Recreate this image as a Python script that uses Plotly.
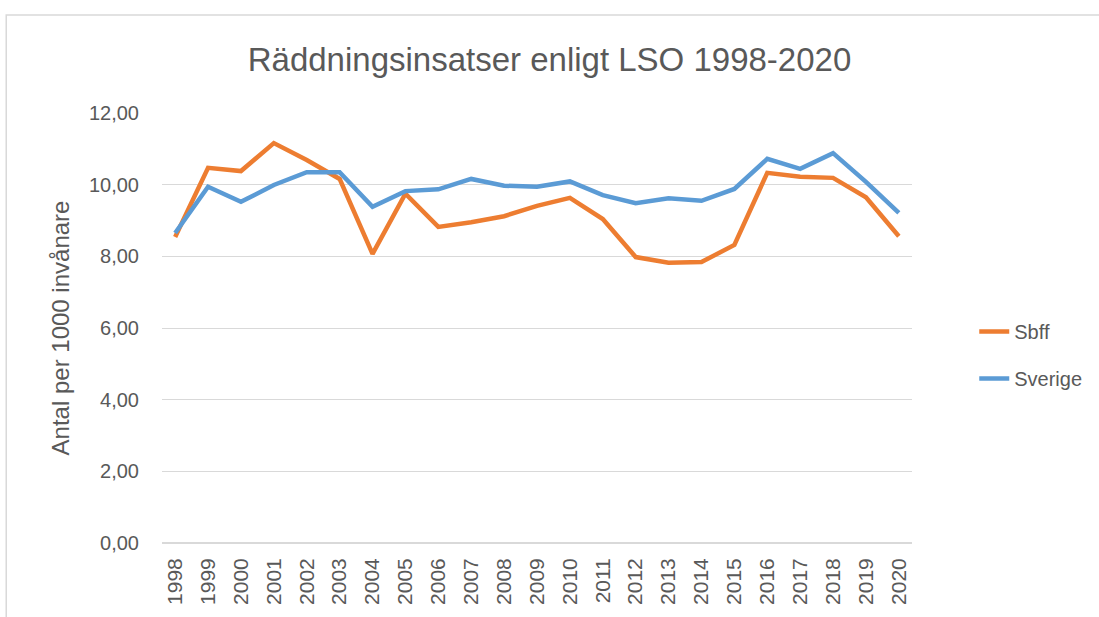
import plotly.graph_objects as go

years = [str(y) for y in range(1998, 2021)]
sbff = [8.54, 10.47, 10.38, 11.16, 10.69, 10.16, 8.07, 9.75, 8.82, 8.95, 9.12, 9.41, 9.63,
        9.04, 7.98, 7.82, 7.84, 8.32, 10.33, 10.22, 10.19, 9.65, 8.56]
sverige = [8.65, 9.94, 9.52, 9.99, 10.35, 10.35, 9.38, 9.82, 9.87, 10.16, 9.97, 9.94, 10.09,
           9.71, 9.48, 9.62, 9.55, 9.88, 10.72, 10.44, 10.88, 10.08, 9.21]
y_ticks = [0, 2, 4, 6, 8, 10, 12]

fig = go.Figure()
fig.add_trace(go.Scatter(x=years, y=sbff, name="Sbff", mode="lines", legendgroup="a",
                         line=dict(color="#ED7D31", width=4.5)))
fig.add_trace(go.Scatter(x=years, y=sverige, name="Sverige", mode="lines", legendgroup="b",
                         line=dict(color="#5B9BD5", width=4.5)))

font = "Liberation Sans, Arial, sans-serif"
fig.update_layout(
    width=1099, height=617,
    margin=dict(l=162, r=181, t=113, b=74),
    paper_bgcolor="white", plot_bgcolor="white",
    separators=",.",
    title=dict(text="Räddningsinsatser enligt LSO 1998-2020", x=0.5, xanchor="center",
               y=0.903, yanchor="middle",
               font=dict(family=font, size=33, color="#595959")),
    xaxis=dict(type="category", range=[-0.4, 22.4], tickangle=-90, showgrid=False,
               tickfont=dict(family=font, size=21, color="#595959"),
               ticks="", showline=False, zeroline=False, ticklabelstandoff=10),
    yaxis=dict(range=[0, 12], tickvals=y_ticks, tickformat=".2f",
               gridcolor="#D9D9D9", gridwidth=1, zeroline=True,
               zerolinecolor="#D9D9D9", zerolinewidth=1.5, showline=False,
               tickfont=dict(family=font, size=20, color="#595959"), ticks="",
               ticklabelstandoff=22,
               title=dict(text="Antal per 1000 invånare",
                          font=dict(family=font, size=24, color="#595959"), standoff=12)),
    legend=dict(x=1.083, y=0.437, xanchor="left", yanchor="middle",
                font=dict(family=font, size=20, color="#595959"),
                tracegroupgap=18, traceorder="grouped"),
    showlegend=True,
    shapes=[dict(type="rect", xref="paper", yref="paper",
                 x0=-0.2077, x1=1.5, y0=-0.35, y1=1.228,
                 line=dict(color="#D9D9D9", width=1.5), layer="below")],
)

fig.write_html("out.html", config={"displayModeBar": False},
               post_script="document.body.style.margin='0';")
